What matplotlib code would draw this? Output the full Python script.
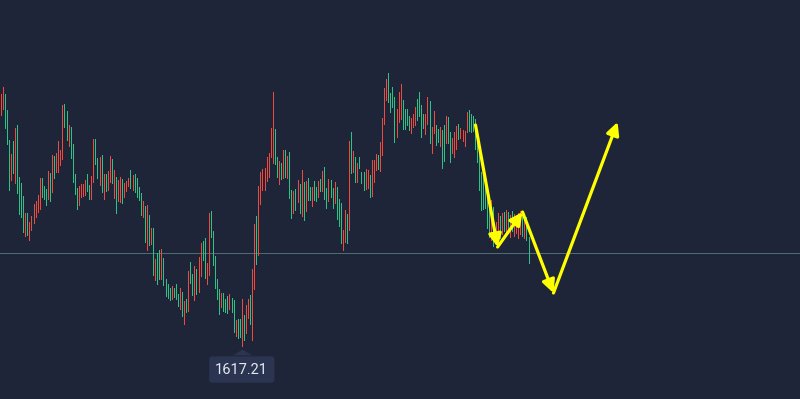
import matplotlib
matplotlib.use("Agg")
import numpy as np
import matplotlib.pyplot as plt
import matplotlib.transforms as mtransforms

# bar data (high / low per bar, G = up, R = down)
highs = [
    1642.4, 1643.1, 1642.4, 1640.8, 1637.8, 1636.4, 1637.7, 1639.0, 1639.3, 1634.1,
    1633.5, 1632.2, 1630.5, 1630.5, 1629.6, 1630.2, 1631.4, 1631.7, 1632.3, 1634.0,
    1634.0, 1633.2, 1632.9, 1634.7, 1634.5, 1636.3, 1636.2, 1636.5, 1637.7, 1636.8,
    1641.3, 1641.4, 1640.7, 1639.3, 1639.1, 1637.4, 1634.4, 1633.0, 1633.2, 1633.4,
    1633.4, 1633.8, 1634.4, 1633.3,
    1634.2, 1637.9, 1637.9, 1636.0, 1636.1, 1636.3, 1634.4, 1634.4, 1634.7, 1636.2,
    1635.9, 1634.8, 1634.1, 1633.8, 1634.1, 1633.9, 1633.5, 1633.7, 1634.0, 1634.8,
    1634.3, 1634.4, 1634.0, 1633.1, 1632.5, 1631.7, 1631.2, 1631.3, 1630.3, 1629.0,
    1629.0, 1625.9, 1626.5, 1626.8, 1626.9, 1626.0, 1623.9, 1623.4, 1623.0, 1623.2,
    1623.0, 1623.4, 1622.4,
    1623.0, 1622.6, 1621.7, 1621.9, 1624.7, 1625.6, 1624.4, 1625.2, 1624.9, 1626.1,
    1627.5, 1627.7, 1628.0, 1625.5, 1630.5, 1630.7, 1628.7, 1626.2, 1623.9, 1622.9,
    1622.5, 1622.5, 1621.9, 1622.2, 1622.4, 1622.0, 1621.8, 1619.8, 1619.9, 1619.9,
    1621.9, 1620.3, 1621.3, 1621.9, 1622.3, 1624.9, 1629.4, 1630.2, 1633.2, 1634.6,
    1634.9, 1635.0, 1636.1, 1636.5,
    1639.0, 1642.6, 1638.9, 1636.1, 1635.7, 1635.5, 1636.8, 1636.8, 1636.2, 1636.6,
    1632.8, 1632.7, 1632.9, 1633.8, 1633.4, 1634.8, 1633.6, 1633.7, 1634.0, 1633.1,
    1633.1, 1633.7, 1633.1, 1633.7, 1633.9, 1634.7, 1635.1, 1633.0, 1633.9, 1633.8,
    1633.0, 1633.6, 1633.1, 1631.9, 1631.5, 1628.8, 1630.8, 1630.4, 1637.7, 1638.6,
    1636.7, 1636.1, 1635.5, 1636.1,
    1634.6, 1634.6, 1634.9, 1634.8, 1634.3, 1635.8, 1635.8, 1636.4, 1636.3, 1637.6,
    1640.0, 1643.0, 1643.9, 1644.5, 1642.5, 1643.1, 1642.1, 1640.9, 1642.6, 1643.4,
    1641.8, 1640.9, 1640.9, 1640.2, 1640.0, 1640.4, 1641.1, 1641.9, 1642.6, 1641.3,
    1640.4, 1640.4, 1642.1, 1641.7, 1639.1, 1640.7, 1639.3, 1638.9, 1639.1, 1638.8,
    1639.3, 1640.2, 1640.1,
    1638.6, 1638.0, 1638.6, 1639.2, 1639.4, 1639.0, 1638.8, 1638.7, 1640.6, 1640.8,
    1640.4, 1640.2, 1639.9, 1638.8, 1636.8, 1634.6, 1634.6, 1634.1, 1632.8, 1632.3,
    1631.8, 1631.1, 1629.6, 1630.5, 1630.2, 1630.5, 1630.6, 1630.8, 1630.6, 1630.3,
    1630.7, 1630.4, 1630.1, 1630.5, 1630.7, 1630.7, 1629.9, 1630.1, 1628.1,
]
lows = [
    1640.3, 1640.9, 1639.0, 1637.4, 1632.8, 1633.8, 1634.5, 1633.5, 1632.5, 1630.4,
    1630.1, 1628.6, 1628.2, 1628.3, 1627.8, 1628.8, 1629.5, 1630.1, 1630.6, 1630.9,
    1632.1, 1631.9, 1631.3, 1631.9, 1631.7, 1632.6, 1634.0, 1634.6, 1634.6, 1635.3,
    1635.9, 1639.1, 1637.8, 1637.2, 1636.0, 1633.6, 1632.4, 1630.9, 1631.3, 1632.1,
    1632.2, 1632.3, 1632.7, 1631.9,
    1631.9, 1633.6, 1635.4, 1634.0, 1633.3, 1632.6, 1631.9, 1632.7, 1632.8, 1633.6,
    1633.5, 1632.0, 1630.5, 1631.7, 1631.6, 1631.5, 1632.1, 1632.7, 1633.2, 1633.0,
    1632.8, 1632.6, 1632.1, 1631.8, 1630.3, 1630.1, 1627.6, 1626.8, 1627.3, 1627.4,
    1624.3, 1623.8, 1623.4, 1623.9, 1623.9, 1623.3, 1622.2, 1622.0, 1621.8, 1621.9,
    1622.1, 1621.9, 1621.2,
    1620.9, 1620.2, 1619.4, 1620.6, 1620.7, 1623.5, 1622.3, 1621.8, 1622.4, 1622.6,
    1624.2, 1625.8, 1624.0, 1623.4, 1624.3, 1628.1, 1625.3, 1623.0, 1621.9, 1620.4,
    1621.1, 1620.7, 1620.6, 1620.5, 1620.9, 1620.6, 1618.6, 1618.2, 1618.0, 1618.1,
    1617.21, 1617.8, 1618.5, 1620.0, 1619.4, 1617.8, 1622.9, 1625.4, 1626.3, 1631.4,
    1632.8, 1632.8, 1633.7, 1634.1,
    1636.1, 1635.5, 1635.4, 1634.1, 1633.4, 1633.9, 1634.0, 1634.1, 1634.0, 1632.0,
    1630.0, 1630.5, 1630.8, 1631.6, 1630.5, 1630.2, 1629.8, 1630.7, 1631.8, 1631.8,
    1631.2, 1631.8, 1631.7, 1632.1, 1632.7, 1632.7, 1631.9, 1631.0, 1631.7, 1632.1,
    1631.0, 1631.5, 1629.9, 1629.2, 1627.5, 1626.8, 1627.6, 1627.5, 1628.8, 1634.5,
    1634.6, 1633.6, 1633.6, 1635.0,
    1633.5, 1632.8, 1632.9, 1633.0, 1632.1, 1632.2, 1633.6, 1634.8, 1634.9, 1634.7,
    1636.3, 1639.4, 1641.8, 1641.6, 1640.6, 1641.1, 1637.6, 1638.1, 1639.6, 1639.9,
    1638.9, 1638.9, 1639.3, 1638.8, 1638.5, 1639.1, 1639.3, 1639.8, 1640.2, 1638.1,
    1639.0, 1638.4, 1639.4, 1637.5, 1636.5, 1638.5, 1637.3, 1637.6, 1637.2, 1635.0,
    1635.7, 1637.5, 1637.5,
    1635.6, 1636.5, 1636.1, 1636.9, 1637.9, 1638.0, 1637.7, 1637.2, 1638.6, 1638.7,
    1638.6, 1638.7, 1636.9, 1635.6, 1632.8, 1630.8, 1630.9, 1631.0, 1629.0, 1628.1,
    1627.8, 1627.2, 1628.0, 1627.8, 1628.0, 1628.4, 1628.7, 1628.3, 1628.8, 1628.1,
    1628.7, 1628.2, 1628.5, 1628.0, 1628.4, 1628.2, 1628.0, 1627.8, 1625.5,
]
direction = (
    "RRGGGRGRGGGGRGRRRRRRGGGRGRGRRRRGGRGGGGRRRRGG"
    "RRGGRGRGRRGRGRRGRRRGRGGGGRGRGRGRGGRGGGGRGGG"
    "RGRGRGGRGRRGGRRGGGGGRGGGRGGRGGRGRRGRRGRRRRRR"
    "RRGGRGRGRGGRGRGRGRGGRGGRGRGGRGGRGGGRRGRGRGRG"
    "GGRRGRRRGRRRRGGGGRRRGGGGRRRGGGGRRGRRGGRGGRG"
    "GRRRGRRRRGGGGGGGGGGGRGRRGRGRGRGRRRRGRGG"
)

current_price = 1626.5
low_label = "1617.21"

# drawn forecast path (bar index, price)
path_x = [230.3, 241.0, 253.1, 268.1, 299.2]
path_y = [1639.3, 1627.1, 1630.6, 1622.5, 1639.6]

BG = "#1e2538"
UP = "#2fc285"
DOWN = "#ef4a3e"

n = len(highs)
idx = np.arange(n)
cols = [UP if c == "G" else DOWN for c in direction[:n]]

fig = plt.figure(figsize=(8, 3.99), dpi=100, facecolor=BG)
ax = fig.add_axes([0, 0, 1, 1])
ax.set_facecolor(BG)
for s in ax.spines.values():
    s.set_visible(False)
ax.set_xticks([])
ax.set_yticks([])

step = 528 / (n - 1)  # pixels per bar
x0 = -0.5 / step
ax.set_xlim(x0, x0 + 800 / step)
ax.set_ylim(1611.9, 1651.8)

ax.axhline(current_price, color="#4a6e72", lw=0.72, zorder=1)

ax.vlines(idx, lows, highs, colors=cols, linewidth=0.72, antialiased=False, zorder=2)

for i in range(len(path_x) - 1):
    ax.annotate(
        "",
        xy=(path_x[i + 1], path_y[i + 1]),
        xytext=(path_x[i], path_y[i]),
        arrowprops=dict(arrowstyle="-|>", color="#ffff00", lw=2.3,
                        mutation_scale=19, shrinkA=0, shrinkB=0),
        zorder=5,
    )

# low marker label
i_low = int(np.argmin(lows))
tri = mtransforms.offset_copy(ax.transData, fig=fig, x=0, y=-4.7, units="points")
ax.plot([i_low], [lows[i_low]], marker=[(-1, -0.3), (1, -0.3), (0, 0.3)],
        ms=14, color="#2b3552", mec="none", transform=tri, zorder=4)
ax.annotate(
    low_label,
    xy=(i_low, lows[i_low]),
    xytext=(0, -17),
    textcoords="offset points",
    ha="center", va="center",
    fontsize=10.5, family=["Roboto", "DejaVu Sans"], color="#e4e8f0",
    bbox=dict(boxstyle="round,pad=0.42,rounding_size=0.2", fc="#2b3552", ec="none"),
    zorder=4,
)

fig.savefig("out.png", dpi=100, facecolor=BG)
